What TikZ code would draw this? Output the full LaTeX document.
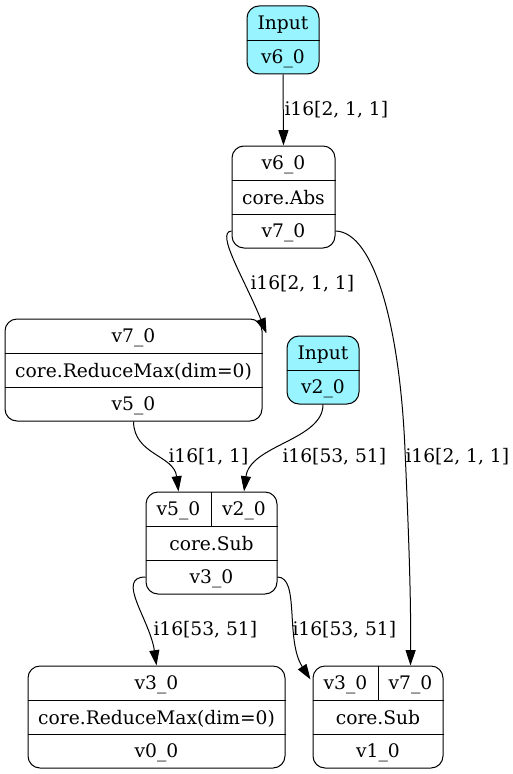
\documentclass[tikz,border=0pt]{standalone}
\usepackage{fontspec}
\setmainfont{DejaVu Serif}
\usetikzlibrary{positioning,arrows.meta}
\definecolor{inputcyan}{HTML}{98F5FF}

\begin{document}
\begin{tikzpicture}[x=0.75pt, y=-0.75pt,
    line width=0.75pt,
    font=\fontsize{14pt}{16pt}\selectfont,
    record/.style={draw, rounded corners=9pt, inner sep=0pt, minimum height=76.5pt},
    inputrec/.style={record, fill=inputcyan, minimum height=51pt},
    row/.style={inner sep=0pt, minimum height=25.5pt, text depth=0pt},
    lbl/.style={inner sep=0pt, anchor=west},
    flow/.style={-{Triangle[length=11.5pt,width=7.5pt]}}]
   \useasboundingbox (0,0) rectangle (513,774);

   % input v6_0
   \node[inputrec, minimum width=54pt] (in6) at (283,40) {};
   \node[row, minimum width=54pt, anchor=north] (in6a) at (in6.north) {Input};
   \node[row, minimum width=54pt, anchor=south] (in6b) at (in6.south) {v6\_0};
   \draw (in6a.south west) -- (in6a.south east);

   % core.Abs
   \node[record, minimum width=77.25pt] (abs) at (283.5,197) {};
   \node[row, minimum width=77.25pt, anchor=north] (absin) at (abs.north) {v6\_0};
   \node[row, minimum width=77.25pt] (absop) at (abs.center) {core.Abs};
   \node[row, minimum width=77.25pt, anchor=south] (absout) at (abs.south) {v7\_0};
   \draw (absin.south west) -- (absin.south east);
   \draw (absop.south west) -- (absop.south east);

   % first ReduceMax
   \node[record, minimum width=192.75pt] (rm1) at (133.5,370) {};
   \node[row, minimum width=192.75pt, anchor=north] (rm1in) at (rm1.north) {v7\_0};
   \node[row, minimum width=192.75pt] (rm1op) at (rm1.center) {core.ReduceMax(dim=0)};
   \node[row, minimum width=192.75pt, anchor=south] (rm1out) at (rm1.south) {v5\_0};
   \draw (rm1in.south west) -- (rm1in.south east);
   \draw (rm1op.south west) -- (rm1op.south east);

   % input v2_0
   \node[inputrec, minimum width=54pt] (in2) at (323,370) {};
   \node[row, minimum width=54pt, anchor=north] (in2a) at (in2.north) {Input};
   \node[row, minimum width=54pt, anchor=south] (in2b) at (in2.south) {v2\_0};
   \draw (in2a.south west) -- (in2a.south east);

   % first Sub
   \node[record, minimum width=98.25pt] (sub1) at (211.5,543) {};
   \node[row, minimum width=48.75pt, anchor=north west] (sub1a) at (sub1.north west) {v5\_0};
   \node[row, minimum width=49.5pt, anchor=north east] (sub1b) at (sub1.north east) {v2\_0};
   \node[row, minimum width=98.25pt] (sub1op) at (sub1.center) {core.Sub};
   \node[row, minimum width=98.25pt, anchor=south] (sub1out) at (sub1.south) {v3\_0};
   \draw (sub1a.north east) -- (sub1a.south east);
   \draw (sub1a.south west) -- (sub1b.south east);
   \draw (sub1op.south west) -- (sub1op.south east);

   % second ReduceMax
   \node[record, minimum width=192.75pt] (rm2) at (156.5,717) {};
   \node[row, minimum width=192.75pt, anchor=north] (rm2in) at (rm2.north) {v3\_0};
   \node[row, minimum width=192.75pt] (rm2op) at (rm2.center) {core.ReduceMax(dim=0)};
   \node[row, minimum width=192.75pt, anchor=south] (rm2out) at (rm2.south) {v0\_0};
   \draw (rm2in.south west) -- (rm2in.south east);
   \draw (rm2op.south west) -- (rm2op.south east);

   % second Sub
   \node[record, minimum width=97.5pt] (sub2) at (378,717) {};
   \node[row, minimum width=48.75pt, anchor=north west] (sub2a) at (sub2.north west) {v3\_0};
   \node[row, minimum width=48.75pt, anchor=north east] (sub2b) at (sub2.north east) {v7\_0};
   \node[row, minimum width=97.5pt] (sub2op) at (sub2.center) {core.Sub};
   \node[row, minimum width=97.5pt, anchor=south] (sub2out) at (sub2.south) {v1\_0};
   \draw (sub2a.north east) -- (sub2a.south east);
   \draw (sub2a.south west) -- (sub2b.south east);
   \draw (sub2op.south west) -- (sub2op.south east);

   % edges
   \draw[flow] (in6b.south) -- (abs.north)
      node[lbl] (e1) at (284,110) {i16[2, 1, 1]};
   \draw[flow] (absout.west) .. controls (215,232) and (245,280) .. ([shift={(4,15)}]rm1.north east)
      node[lbl] (e2) at (250,284) {i16[2, 1, 1]};
   \draw[flow] (absout.east) .. controls (375,232) and (400,330) .. (405,450)
      .. controls (409,540) and (411,600) .. (sub2b.north)
      node[lbl] (e3) at (405,457) {i16[2, 1, 1]};
   \draw[flow] (rm1out.south) .. controls (134,455) and (174,455) .. (sub1a.north)
      node[lbl] (e4) at (168,457) {i16[1, 1]};
   \draw[flow] (in2b.south) .. controls (323,440) and (250,445) .. (sub1b.north)
      node[lbl] (e5) at (282,457) {i16[53, 51]};
   \draw[flow] (sub1out.west) .. controls (115,577) and (150,620) .. (rm2in.north)
      node[lbl] (e6) at (153,630) {i16[53, 51]};
   \draw[flow] (sub1out.east) .. controls (300,577) and (285,640) .. ([shift={(-2,14)}]sub2.north west)
      node[lbl] (e7) at (292,630) {i16[53, 51]};
\end{tikzpicture}
\end{document}
